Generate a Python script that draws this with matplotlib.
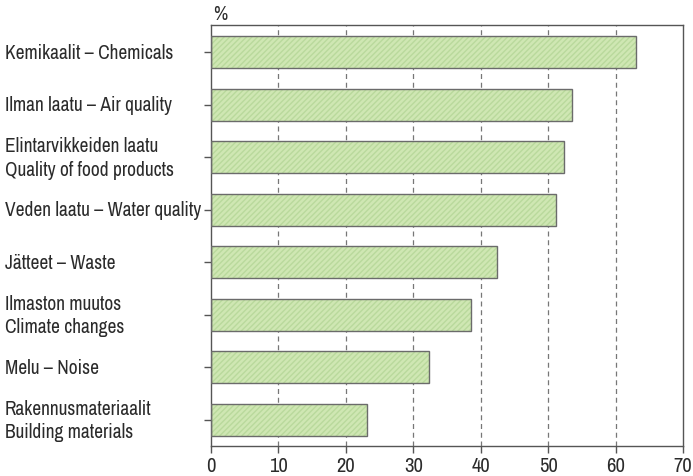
import matplotlib.pyplot as plt
import matplotlib.transforms as mtransforms
from matplotlib import font_manager

# Data (percent)
labels = ['Kemikaalit – Chemicals',
          'Ilman laatu – Air quality',
          'Elintarvikkeiden laatu\nQuality of food products',
          'Veden laatu – Water quality',
          'Jätteet – Waste',
          'Ilmaston muutos\nClimate changes',
          'Melu – Noise',
          'Rakennusmateriaalit\nBuilding materials']
values = [63.1, 53.6, 52.4, 51.2, 42.4, 38.6, 32.3, 23.1]
xticks = [0, 10, 20, 30, 40, 50, 60, 70]

# pick an upright condensed face, narrowest family first
bad = ('bold', 'italic', 'oblique', 'light', 'thin', 'black', 'medium', 'semi', 'extra')
cands = []
for f in font_manager.fontManager.ttflist:
    n = (f.name + ' ' + f.fname.split('/')[-1]).lower()
    if ('narrow' in n or 'condensed' in n) and not any(b in n for b in bad):
        rank = 0 if 'narrow' in n else (1 if 'roboto' in n else 2)
        cands.append((rank, f.fname))
cands.sort()
if cands:
    fp = font_manager.FontProperties(fname=cands[0][1])
else:
    fp = font_manager.FontProperties(family='Liberation Sans')

text_col = '#2b2b2b'
line_col = '#555555'

fig = plt.figure(figsize=(6.93, 4.77), dpi=100)

# size the labels so the widest single line fits like the reference (~195 px)
probe = fig.text(0, 0, 'Veden laatu – Water quality', fontproperties=fp, fontsize=14)
w = probe.get_window_extent(renderer=fig.canvas.get_renderer()).width
probe.remove()
fs = min(15, 14 * 196 / w)

ax = fig.add_axes([211 / 693, 1 - 447 / 477, (683 - 211) / 693, (447 - 26) / 477])

pos = list(range(len(values)))
# hatched green fill, then outline on top
ax.barh(pos, values, height=0.61, color='#cfe7b3', edgecolor='#b9d99c',
        hatch='//////', linewidth=0, zorder=2)
ax.barh(pos, values, height=0.61, color='none', edgecolor='#6b6b6b',
        linewidth=1.0, zorder=3)

ax.set_xlim(0, 70)
ax.set_ylim(7.5, -0.52)
ax.set_xticks(xticks)
ax.set_xticklabels([str(t) for t in xticks], color=text_col)
for tl in ax.get_xticklabels():
    tl.set_fontproperties(fp)
    tl.set_fontsize(fs + 0.8)
ax.set_yticks(pos)
ax.set_yticklabels([])

for t in xticks[1:-1]:
    ax.axvline(t, color='#777777', linestyle=(0, (4, 3)), linewidth=0.9, zorder=1)

for s in ax.spines.values():
    s.set_color(line_col)
    s.set_linewidth(1.0)

ax.tick_params(axis='both', direction='out', length=5, width=1.0, color=line_col)
ax.tick_params(axis='x', pad=2)

trans = mtransforms.blended_transform_factory(fig.transFigure, ax.transData)
for p, lab in zip(pos, labels):
    ax.text(5 / 693, p, lab, transform=trans, ha='left', va='center',
            fontproperties=fp, fontsize=fs, color=text_col, linespacing=1.3)

fig.text(213 / 693, 1 - 15 / 477, '%', ha='left', va='center',
         fontproperties=fp, fontsize=fs, color=text_col)

fig.savefig('out.png', dpi=100)
